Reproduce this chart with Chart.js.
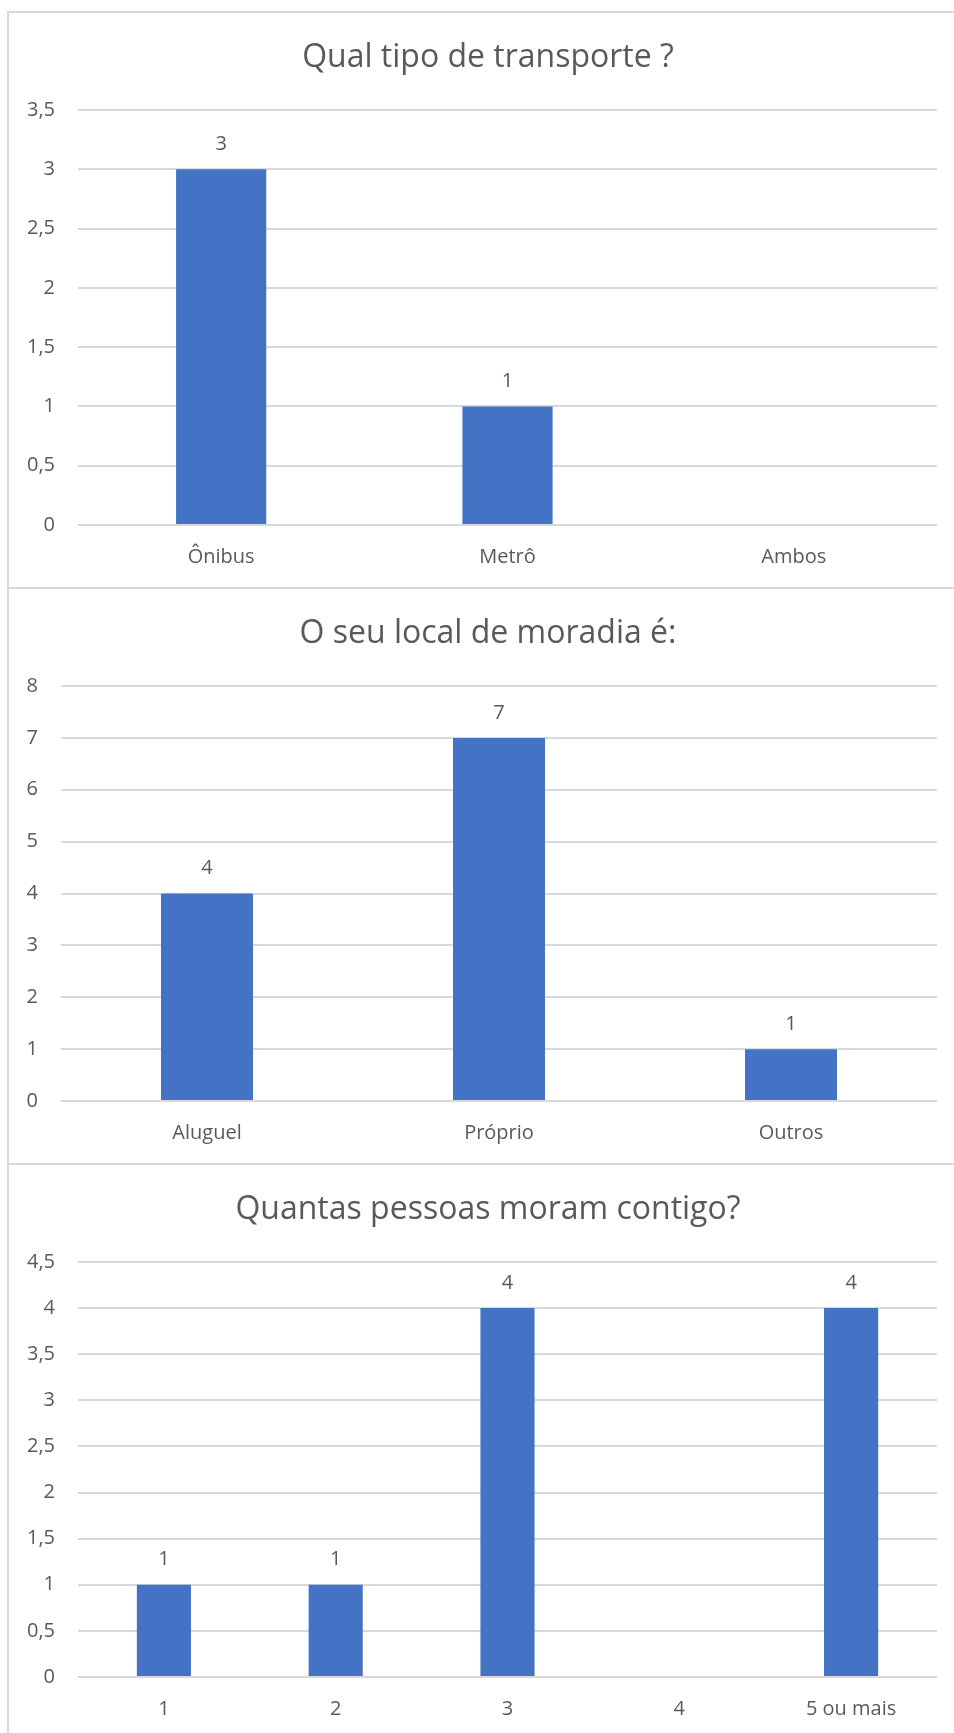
<!DOCTYPE html>
<html>
<head>
<meta charset="utf-8">
<title>Pesquisa</title>
<script src="https://cdn.jsdelivr.net/npm/chart.js"></script>
<style>
  html, body { margin: 0; padding: 0; background: #fff; overflow: hidden; }
  body { width: 954px; height: 1733px; position: relative; font-family: 'Open Sans', sans-serif; }
  .box { position: absolute; left: 7px; width: 980px; border: 2px solid #d9d9d9; box-sizing: border-box; background: #fff; }
  .box canvas { position: absolute; left: 0; top: 0; }
  .box h2 {
    position: absolute; left: 0; top: 22px; width: 958px; margin: 0;
    text-align: center; font-size: 32px; line-height: 40px; font-weight: normal; color: #595959;
  }
</style>
</head>
<body>
<div class="box" style="top:11px;height:578px"><canvas id="chart_transporte"></canvas><h2 id="title_transporte"></h2></div>
<div class="box" style="top:587px;height:579px"><canvas id="chart_moradia"></canvas><h2 id="title_moradia"></h2></div>
<div class="box" style="top:1163px;height:600px"><canvas id="chart_pessoas"></canvas><h2 id="title_pessoas"></h2></div>

<script>
// DATA
const transporte_labels = ["Ônibus", "Metrô", "Ambos"];
const transporte_values = [3, 1, null];
const transporte_ticks = ["0", "0,5", "1", "1,5", "2", "2,5", "3", "3,5"];

const moradia_labels = ["Aluguel", "Próprio", "Outros"];
const moradia_values = [4, 7, 1];
const moradia_ticks = ["0", "1", "2", "3", "4", "5", "6", "7", "8"];

const pessoas_labels = ["1", "2", "3", "4", "5 ou mais"];
const pessoas_values = [1, 1, 4, null, 4];
const pessoas_ticks = ["0", "0,5", "1", "1,5", "2", "2,5", "3", "3,5", "4", "4,5"];

const FONT = "'Open Sans', sans-serif";
const TEXT_COLOR = "#595959";
const GRID_COLOR = "#d9d9d9";
const BAR_COLOR = "#4472c4";

// VALUE LABELS ABOVE BARS
const value_labels = {
  id: "value_labels",
  afterDatasetsDraw(chart) {
    const ctx = chart.ctx;
    const meta = chart.getDatasetMeta(0);
    const values = chart.data.datasets[0].data;
    ctx.save();
    ctx.font = "20px " + FONT;
    ctx.fillStyle = TEXT_COLOR;
    ctx.textAlign = "center";
    ctx.textBaseline = "middle";
    meta.data.forEach((bar, i) => {
      if (values[i] == null) return;
      ctx.fillText(String(values[i]), bar.x, bar.y - 25);
    });
    ctx.restore();
  }
};

// the title sits in html above the canvas, centred on the whole chart box
function makeChart(id, title, labels, values, ticks, step, axis_width) {
  document.getElementById("title_" + id).textContent = title;
  const canvas = document.getElementById("chart_" + id);
  canvas.width = 944;
  canvas.height = 574;
  const max = (ticks.length - 1) * step;

  return new Chart(canvas.getContext("2d"), {
    type: "bar",
    data: {
      labels: labels,
      datasets: [{
        data: values,
        backgroundColor: BAR_COLOR,
        borderWidth: 0,
        barPercentage: 1,
        categoryPercentage: 0.315
      }]
    },
    options: {
      responsive: false,
      animation: false,
      devicePixelRatio: 1,
      layout: { padding: { left: 0, right: 16, top: 97, bottom: 0 } },
      plugins: {
        legend: { display: false },
        tooltip: { enabled: false },
        title: { display: false }
      },
      scales: {
        x: {
          grid: { display: false, drawTicks: false },
          border: { display: false },
          ticks: { color: TEXT_COLOR, font: { family: FONT, size: 20 }, padding: 20 },
          afterFit: (scale) => { scale.height = 62; }
        },
        y: {
          min: 0,
          max: max,
          grid: { color: GRID_COLOR, lineWidth: 2, drawTicks: false },
          border: { display: false },
          ticks: {
            stepSize: step,
            color: TEXT_COLOR,
            font: { family: FONT, size: 20 },
            padding: 23,
            callback: (value, index) => ticks[index]
          },
          afterFit: (scale) => { scale.width = axis_width; }
        }
      }
    },
    plugins: [value_labels]
  });
}

makeChart("transporte", "Qual tipo de transporte ?", transporte_labels, transporte_values, transporte_ticks, 0.5, 69);
makeChart("moradia", "O seu local de moradia é:", moradia_labels, moradia_values, moradia_ticks, 1, 52);
makeChart("pessoas", "Quantas pessoas moram contigo?", pessoas_labels, pessoas_values, pessoas_ticks, 0.5, 69);
</script>
</body>
</html>
